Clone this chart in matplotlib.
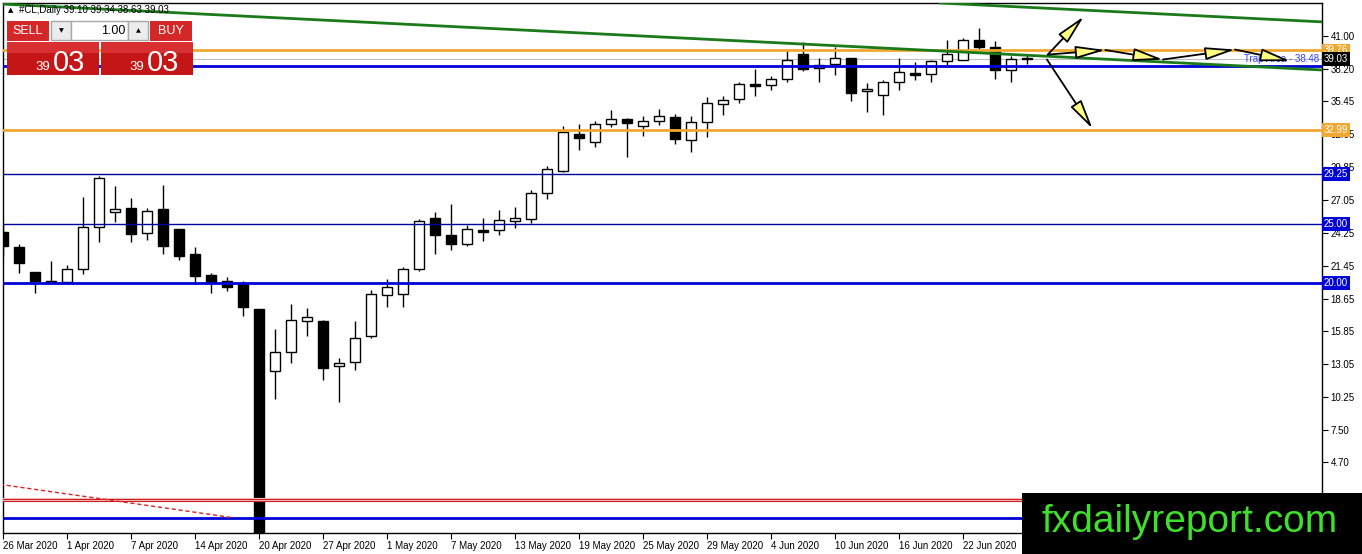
import numpy as np
import matplotlib
matplotlib.use('Agg')
import matplotlib.pyplot as plt
import matplotlib.transforms as mtransforms
from matplotlib.patches import Rectangle, FancyArrowPatch

plt.rcParams['font.family'] = ['Liberation Sans', 'DejaVu Sans']

# ---- data (daily #CL candles, 26 Mar - 26 Jun 2020) ----
date_labels = ['26 Mar 2020', '1 Apr 2020', '7 Apr 2020', '14 Apr 2020', '20 Apr 2020',
               '27 Apr 2020', '1 May 2020', '7 May 2020', '13 May 2020', '19 May 2020',
               '25 May 2020', '29 May 2020', '4 Jun 2020', '10 Jun 2020', '16 Jun 2020',
               '22 Jun 2020']

opens = [24.35, 23.07, 20.91, 20.12, 20.03, 21.14, 24.72, 26.05, 26.37, 24.21,
         26.31, 24.58, 22.42, 20.66, 20.14, 19.95, 17.73, 12.45, 14.07, 16.71,
         16.73, 12.87, 13.21, 15.48, 18.93, 19.01, 21.14, 25.49, 24.04, 23.27,
         24.49, 24.47, 25.29, 25.46, 27.67, 29.52, 32.68, 31.94, 33.47, 33.96,
         33.30, 33.76, 34.10, 32.14, 33.67, 35.21, 35.63, 36.91, 36.83, 37.31,
         39.50, 38.24, 38.58, 39.13, 36.32, 35.94, 37.08, 37.85, 37.79, 38.84,
         38.99, 40.66, 40.03, 38.07, 39.10]
highs = [25.00, 23.30, 20.95, 21.85, 21.51, 27.31, 29.10, 28.24, 27.22, 26.39,
         28.33, 24.60, 23.07, 20.80, 20.51, 20.14, 17.80, 16.05, 18.18, 17.82,
         16.82, 13.58, 16.73, 19.38, 20.29, 21.36, 25.40, 26.00, 26.71, 24.89,
         25.49, 26.17, 26.43, 27.88, 29.95, 33.33, 33.50, 33.79, 34.72, 34.02,
         34.19, 34.78, 34.36, 34.15, 35.81, 35.92, 37.11, 38.22, 37.62, 39.78,
         40.49, 39.13, 40.07, 39.15, 37.00, 37.28, 39.13, 38.79, 38.99, 40.61,
         40.78, 41.69, 40.58, 39.27, 39.34]
lows = [22.30, 20.80, 19.15, 20.00, 19.86, 20.72, 23.44, 25.20, 23.50, 23.67,
        22.45, 21.96, 19.86, 19.10, 19.32, 17.19, -40.32, 10.11, 13.18, 15.48,
        11.71, 9.86, 12.53, 15.31, 17.95, 17.95, 21.02, 22.47, 22.81, 23.15,
        23.58, 24.09, 24.69, 25.12, 27.16, 29.44, 31.25, 31.51, 33.25, 30.66,
        32.45, 33.38, 31.76, 31.12, 32.40, 34.24, 35.26, 35.86, 36.37, 37.05,
        38.02, 37.05, 37.71, 35.43, 34.49, 34.30, 36.37, 37.22, 37.08, 38.41,
        38.93, 39.92, 37.34, 37.08, 38.63]
closes = [23.15, 21.70, 20.17, 20.05, 21.14, 24.75, 28.90, 26.28, 24.18, 26.09,
          23.10, 22.30, 20.60, 20.00, 19.61, 17.95, -37.63, 14.09, 16.79, 17.05,
          12.75, 13.13, 15.26, 19.04, 19.61, 21.14, 25.23, 24.04, 23.32, 24.55,
          24.35, 25.32, 25.49, 27.62, 29.67, 32.82, 32.28, 33.50, 33.96, 33.59,
          33.76, 34.19, 32.23, 33.67, 35.29, 35.58, 36.91, 36.74, 37.34, 38.96,
          38.16, 38.50, 39.13, 36.11, 36.49, 37.11, 37.96, 37.65, 38.87, 39.47,
          40.66, 40.03, 38.07, 39.05, 39.03]

price_ticks = [41.00, 38.20, 35.45, 32.65, 29.85, 27.05, 24.25, 21.45, 18.65,
               15.85, 13.05, 10.25, 7.50, 4.70]

orange_levels = [39.76, 32.99]
blue_thin_levels = [29.25, 25.00]
blue_thick_levels = [20.00, 0.00]
trap_level = 38.48
bid_price = 39.03
red_level = 1.54

# trend lines and projection arrows, (bar, price)
channel_low = [(-0.2, 43.72), (82.44, 38.10)]
channel_high = [(62.3, 43.55), (82.5, 42.19)]
red_trend = [(-0.2, 2.84), (14.4, 0.0)]
proj_up = [(65.3, 39.41), (67.55, 42.65)]
proj_down = [(65.25, 38.99), (68.1, 33.10)]
proj_zigzag = [(65.3, 39.41), (68.9, 39.80), (72.5, 38.99), (77.0, 39.84), (80.45, 38.86)]

W, H = 1362, 554
ORANGE = '#f0a830'
BLUE = '#0000d8'
NAVY = '#0000a0'
GREEN = '#1a7a1a'

fig = plt.figure(figsize=(W / 100, H / 100), dpi=100)
ax = fig.add_axes([3 / W, 21 / H, 1319 / W, 530 / H])

o = np.array(opens)
h = np.array(highs)
l = np.array(lows)
c = np.array(closes)
x = np.arange(len(o))
up = c >= o

ax.vlines(x, l, h, color='black', lw=1, zorder=3)
bottoms = np.minimum(o, c)
heights = np.maximum(np.abs(c - o), 0.06)
ax.bar(x, heights, bottom=bottoms, width=0.66,
       color=np.where(up, 'white', 'black'), edgecolor='black', lw=1, zorder=4)

# horizontal levels
for lv in orange_levels:
    ax.axhline(lv, color=ORANGE, lw=2, zorder=5)
for lv in blue_thin_levels:
    ax.axhline(lv, color=NAVY, lw=1, zorder=5)
for lv in blue_thick_levels:
    ax.axhline(lv, color=BLUE, lw=2, zorder=5)
ax.axhline(trap_level, color=BLUE, lw=2, zorder=5)
ax.axhline(bid_price, color='#c0c0c0', lw=0.8, zorder=2)
ax.axhline(red_level, color='#f6c4c4', lw=3, zorder=5)
ax.axhline(red_level + 0.09, color='#cc2020', lw=0.8, zorder=5)
ax.axhline(red_level - 0.09, color='#cc2020', lw=0.8, zorder=5)

ax.axline(channel_low[0], channel_low[1], color=GREEN, lw=2, zorder=5)
ax.axline(channel_high[0], channel_high[1], color=GREEN, lw=2, zorder=5)
ax.plot(*zip(*red_trend), color='#dd2222', lw=1, ls=(0, (3, 2)), zorder=5)

ax.text(0.998, trap_level + 0.1, 'Trap Area - 38.48', transform=ax.get_yaxis_transform(),
        ha='right', va='bottom', fontsize=7, color='#3040ff', zorder=6)


def arrow(a, b):
    ax.add_patch(FancyArrowPatch(a, b, arrowstyle='-|>,head_length=1.4,head_width=0.3',
                                 mutation_scale=13, fc='#ffff80', ec='black', lw=1.3,
                                 shrinkA=0, shrinkB=0, zorder=8))


arrow(proj_up[0], proj_up[1])
arrow(proj_down[0], proj_down[1])
for a, b in zip(proj_zigzag[:-1], proj_zigzag[1:]):
    arrow(a, b)

ax.set_xlim(0, 82.44)
ax.set_ylim(-1.30, 43.80)

ax.set_xticks(np.arange(0, 4 * len(date_labels), 4))
ax.set_xticklabels(date_labels)
offset = mtransforms.ScaledTranslation(1.5 / 72, 0, fig.dpi_scale_trans)
for lab in ax.get_xticklabels():
    lab.set_ha('left')
    lab.set_transform(lab.get_transform() + offset)
ax.tick_params(axis='x', direction='out', length=4, labelsize=7, pad=2)

ax.yaxis.tick_right()
ax.set_yticks(price_ticks)
ax.yaxis.set_major_formatter('{x:.2f}')
ax.tick_params(axis='y', direction='out', length=4, labelsize=7, pad=2)
for s in ax.spines.values():
    s.set_color('black')
    s.set_linewidth(1)

# price boxes on the right scale
box_labels = [(39.76, ORANGE, 'white'), (bid_price, 'black', 'white'), (32.99, ORANGE, 'white'),
              (29.25, BLUE, 'white'), (25.00, BLUE, 'white'), (20.00, BLUE, 'white'),
              (red_level, '#cc1010', 'white')]
for lv, fc, tc in box_labels:
    ax.text(1.0015, lv, f'{lv:.2f}', transform=ax.get_yaxis_transform(), ha='left', va='center',
            fontsize=7, color=tc, zorder=10, clip_on=False,
            bbox=dict(boxstyle='square,pad=0.2', fc=fc, ec='none'))


# ---- trade panel (pixel positions, origin top-left) ----
def box(x0, y0, x1, y1, fc, ec='none', z=30):
    fig.add_artist(Rectangle((x0 / W, 1 - y1 / H), (x1 - x0) / W, (y1 - y0) / H,
                             transform=fig.transFigure, fc=fc, ec=ec, lw=1, zorder=z))


def ptext(px, py, s, **kw):
    fig.text(px / W, 1 - py / H, s, zorder=31, **kw)


ptext(8, 10, '\u25b2', fontsize=5, family='DejaVu Sans', va='center')
ptext(19, 10, '#CL,Daily 39.10 39.34 38.63 39.03', fontsize=7, va='center')

box(7, 21, 49, 41, '#d42828')
ptext(28, 31, 'SELL', fontsize=9, color='white', ha='center', va='center')
box(51, 21, 71, 40, '#ececec', '#a8a8a8')
ptext(61, 31, '\u25bc', fontsize=4.5, family='DejaVu Sans', ha='center', va='center')
box(71, 21, 128, 40, 'white', '#a8a8a8')
ptext(125, 31, '1.00', fontsize=9, ha='right', va='center')
box(128, 21, 148, 40, '#ececec', '#a8a8a8')
ptext(138, 31, '\u25b2', fontsize=4.5, family='DejaVu Sans', ha='center', va='center')
box(150, 21, 192, 41, '#d42828')
ptext(171, 31, 'BUY', fontsize=9, color='white', ha='center', va='center')

for bx in (7, 101):
    box(bx, 42, bx + 92, 75, '#c41616')
    box(bx, 42, bx + 92, 53, '#d83030', z=30.5)
    ptext(bx + 28, 70, '39', fontsize=9.5, color='white', va='baseline')
    ptext(bx + 46, 71, '03', fontsize=21, color='white', va='baseline')

# ---- watermark ----
box(1022, 493, 1362, 554, 'black', z=40)
fig.text(1190 / W, 1 - 522 / H, 'fxdailyreport.com', color='#3ee02c', fontsize=28,
         ha='center', va='center', zorder=41)

fig.savefig('out.png', dpi=100)
